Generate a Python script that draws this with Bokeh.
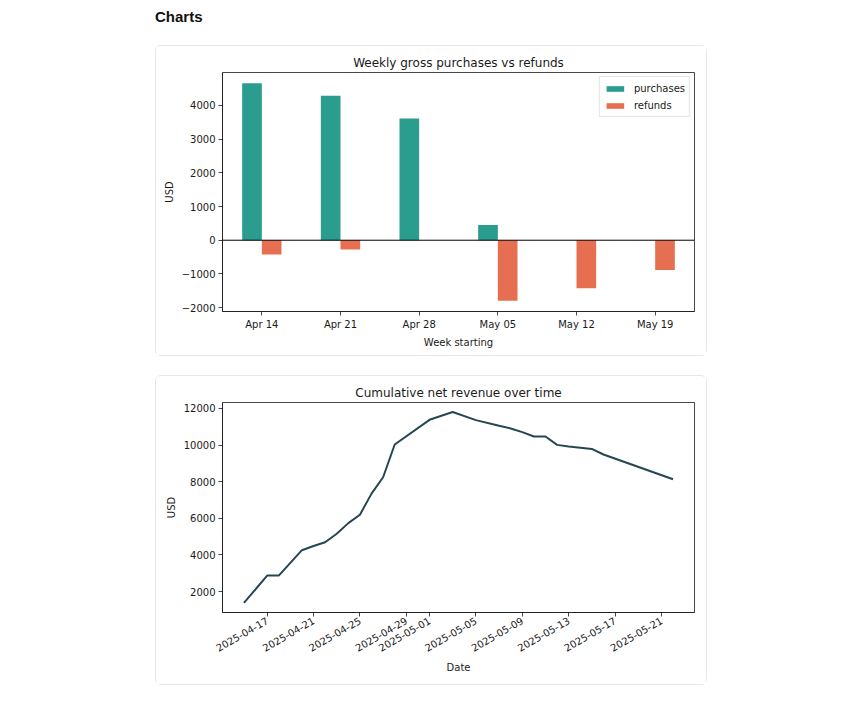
import math
import numpy as np
import pandas as pd
from bokeh.plotting import figure
from bokeh.models import (Range1d, FixedTicker, Span, Legend, LegendItem,
                          CustomJSTickFormatter, DatetimeTickFormatter, Div)
from bokeh.layouts import column
from bokeh.embed import file_html
from bokeh.resources import INLINE

# ---------------- data ----------------
week_labels = ["Apr 14", "Apr 21", "Apr 28", "May 05", "May 12", "May 19"]
purchases = [4653, 4287, 3614, 455, 0, 0]
refunds = [-426, -277, 0, -1792, -1426, -881]

cum_dates = ["2025-04-15", "2025-04-17", "2025-04-18", "2025-04-20", "2025-04-21",
             "2025-04-22", "2025-04-23", "2025-04-24", "2025-04-25", "2025-04-26",
             "2025-04-27", "2025-04-28", "2025-05-01", "2025-05-03", "2025-05-05",
             "2025-05-07", "2025-05-08", "2025-05-09", "2025-05-10", "2025-05-11",
             "2025-05-12", "2025-05-13", "2025-05-15", "2025-05-16", "2025-05-22"]
cum_net = [1382, 2876, 2876, 4261, 4490,
           4698, 5158, 5738, 6198, 7348,
           8240, 10030, 11376, 11800, 11360,
           11048, 10905, 10703, 10467, 10467,
           10008, 9920, 9789, 9482, 8130]
date_ticks = ["2025-04-17", "2025-04-21", "2025-04-25", "2025-04-29", "2025-05-01",
              "2025-05-05", "2025-05-09", "2025-05-13", "2025-05-17", "2025-05-21"]

TEAL = "#2a9d8f"
ORANGE = "#e76f51"
LINE = "#264653"
FONT = "DejaVu Sans"
TXT = "#1a1a1a"
CARD = {"border": "1px solid #e6e6e6", "border-radius": "6px", "background-color": "white"}


def style_axes(p):
    for ax in (p.xaxis[0], p.yaxis[0]):
        ax.axis_line_color = TXT
        ax.axis_line_width = 0.8
        ax.major_tick_line_color = TXT
        ax.major_tick_line_width = 0.8
        ax.major_tick_out = 4
        ax.major_tick_in = 0
        ax.minor_tick_line_color = None
        ax.major_label_text_font = FONT
        ax.major_label_text_font_size = "10px"
        ax.major_label_text_color = TXT
        ax.major_label_standoff = 3
        ax.axis_label_text_font = FONT
        ax.axis_label_text_font_size = "10px"
        ax.axis_label_text_font_style = "normal"
        ax.axis_label_text_color = TXT
        ax.axis_label_standoff = 4
    p.grid.visible = False
    p.outline_line_color = TXT
    p.outline_line_width = 0.8
    p.title.text_font = FONT
    p.title.text_font_size = "12px"
    p.title.text_font_style = "normal"
    p.title.text_color = TXT
    p.title.align = "center"
    p.title.standoff = 5


# ---------------- chart 1: weekly bars ----------------
idx = np.arange(len(week_labels))
ymin1 = min(min(refunds), 0)
ymax1 = max(purchases)
span1 = ymax1 - ymin1

p1 = figure(width=552, height=311, output_backend="svg", toolbar_location=None,
            x_range=Range1d(-0.5, len(week_labels) - 0.5),
            y_range=Range1d(ymin1 - 0.05 * span1, ymax1 + 0.05 * span1),
            title="Weekly gross purchases vs refunds",
            min_border_left=66, min_border_right=14, min_border_top=26, min_border_bottom=46,
            styles=CARD, margin=(0, 0, 0, 0))

r1 = p1.vbar(x=idx - 0.125, top=purchases, width=0.25, fill_color=TEAL, line_color=None)
r2 = p1.vbar(x=idx + 0.125, top=refunds, width=0.25, fill_color=ORANGE, line_color=None)
p1.add_layout(Span(location=0, dimension="width", line_color="black", line_width=1))

style_axes(p1)
p1.xaxis.ticker = FixedTicker(ticks=list(idx))
p1.xaxis.major_label_overrides = {int(i): lab for i, lab in zip(idx, week_labels)}
p1.xaxis.axis_label = "Week starting"
p1.yaxis.axis_label = "USD"
p1.yaxis.ticker = FixedTicker(ticks=[-2000, -1000, 0, 1000, 2000, 3000, 4000])
p1.yaxis.formatter = CustomJSTickFormatter(
    code="return tick < 0 ? '\u2212' + Math.abs(tick) : String(tick);")

legend = Legend(items=[LegendItem(label="purchases", renderers=[r1]),
                       LegendItem(label="refunds", renderers=[r2])],
                location="top_right", margin=4, padding=4, spacing=3,
                glyph_width=22, glyph_height=7, label_height=14, label_standoff=8,
                label_text_font=FONT, label_text_font_size="10px", label_text_color=TXT,
                border_line_color="#cccccc", border_line_width=1,
                background_fill_color="white", background_fill_alpha=0.8)
p1.add_layout(legend)

# ---------------- chart 2: cumulative line ----------------
dts = pd.to_datetime(cum_dates)
d0, d1 = dts.min(), dts.max()
dpad = (d1 - d0) * 0.05
ymin2, ymax2 = min(cum_net), max(cum_net)
span2 = ymax2 - ymin2

p2 = figure(width=552, height=310, output_backend="svg", toolbar_location=None,
            x_axis_type="datetime",
            x_range=Range1d(d0 - dpad, d1 + dpad),
            y_range=Range1d(ymin2 - 0.05 * span2, ymax2 + 0.05 * span2),
            title="Cumulative net revenue over time",
            min_border_left=64, min_border_right=14, min_border_top=26, min_border_bottom=74,
            styles=CARD, margin=(0, 0, 0, 0))
p2.line(x=dts, y=cum_net, line_color=LINE, line_width=2)

style_axes(p2)
tick_ms = [int(pd.Timestamp(d).value // 10**6) for d in date_ticks]
p2.xaxis.ticker = FixedTicker(ticks=tick_ms)
fmt = "%Y-%m-%d"
p2.xaxis.formatter = DatetimeTickFormatter(days=fmt, months=fmt, years=fmt, hours=fmt,
                                           hourmin=fmt, minutes=fmt)
p2.xaxis.major_label_orientation = math.pi / 6
p2.xaxis.axis_label = "Date"
p2.yaxis.axis_label = "USD"
p2.yaxis.ticker = FixedTicker(ticks=[2000, 4000, 6000, 8000, 10000, 12000])

# ---------------- page ----------------
head = Div(text="Charts", width=552, height=18, margin=(8, 0, 0, 0),
           styles={"font-family": "Liberation Sans, Arial, sans-serif", "font-size": "15px",
                   "font-weight": "bold", "color": "#111", "line-height": "17px"})

page = column(head, p1, p2, spacing=19, margin=(0, 0, 0, 155))

open("out.html", "w").write(file_html(page, INLINE))
